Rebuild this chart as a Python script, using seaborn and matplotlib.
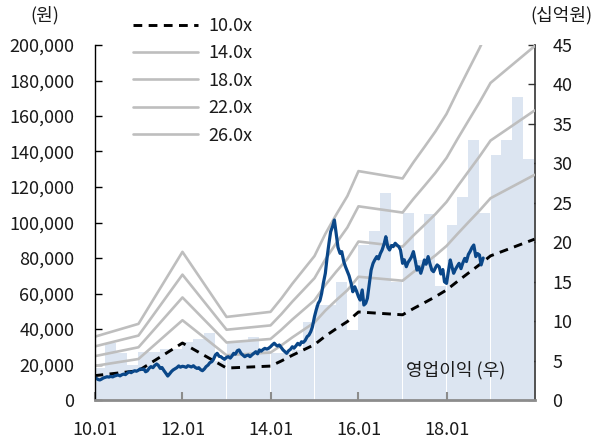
import numpy as np
import pandas as pd
import matplotlib
matplotlib.use("Agg")
import matplotlib.pyplot as plt
import seaborn as sns
from matplotlib.lines import Line2D
from matplotlib.ticker import FuncFormatter, MultipleLocator

sns.set_style("ticks")
plt.rcParams["font.family"] = ["Noto Sans CJK KR", "DejaVu Sans"]
plt.rcParams["axes.unicode_minus"] = False

# Share price (thousand won), sampled on the 1st and 15th of each month from Jan 2010
price_k = [
    # 2010
    12.8, 12.2, 11.5, 11.3, 11.8, 12.4, 12.8, 13.1, 12.9, 13.3, 13.0, 13.5,
    13.8, 14.1, 13.6, 14.2, 14.6, 14.3, 15.2, 15.9, 15.4, 16.0, 16.5, 16.2,
    # 2011
    16.8, 17.5, 17.2, 17.5, 15.9, 16.4, 18.0, 18.8, 18.2, 19.4, 20.3, 19.5,
    17.8, 18.3, 16.5, 15.2, 13.5, 14.6, 16.0, 16.9, 17.6, 18.2, 19.2, 18.5,
    # 2012
    19.0, 18.8, 18.4, 19.3, 19.0, 18.6, 19.3, 18.4, 17.8, 18.2, 17.0, 16.5,
    17.5, 18.8, 19.7, 21.0, 21.6, 23.0, 25.4, 26.3, 24.6, 24.4, 23.5, 22.9,
    # 2013
    24.0, 24.4, 23.6, 24.8, 26.3, 25.8, 27.8, 28.2, 26.3, 25.4, 24.4, 25.0,
    25.3, 24.4, 25.5, 26.3, 27.2, 26.0, 28.2, 27.5, 28.5, 29.1, 28.7, 29.1,
    # 2014
    30.0, 31.0, 32.0, 31.0, 30.4, 31.0, 29.5, 28.2, 27.2, 26.3, 27.8, 28.5,
    30.0, 29.2, 30.6, 31.9, 31.0, 32.8, 32.5, 33.5, 35.7, 36.5, 38.5, 41.3,
    # 2015
    47.0, 50.7, 54.5, 56.0, 60.0, 65.7, 71.4, 80.0, 88.3, 94.8, 98.0, 101.4,
    93.0, 86.0, 82.6, 83.6, 78.0, 75.1, 72.3, 70.0, 65.7, 61.0, 63.8, 61.5,
    # 2016
    58.2, 56.3, 62.0, 53.5, 54.5, 57.3, 66.0, 73.2, 77.0, 78.9, 80.8, 79.5,
    82.6, 84.5, 88.0, 92.0, 86.0, 84.5, 87.0, 86.4, 88.3, 87.3, 86.4, 84.5,
    # 2017
    77.0, 79.0, 75.1, 77.5, 78.9, 80.5, 83.6, 79.0, 73.2, 75.0, 71.4, 74.5,
    78.9, 76.5, 80.8, 77.0, 73.2, 72.3, 74.5, 76.1, 75.1, 71.0, 73.5, 66.6,
    # 2018
    65.7, 72.0, 78.9, 75.0, 71.4, 73.5, 75.5, 77.0, 74.0, 77.0, 79.8, 78.0,
    82.0, 83.6, 86.0, 87.3, 80.8, 82.5, 81.7, 76.1, 80.0,
]

# Forward EPS (won) at the dates where the PER band changes slope
eps_dates = [
    "2010-01-01", "2011-01-01", "2012-01-01", "2013-01-01", "2014-01-01",
    "2014-04-01", "2014-07-01", "2014-10-01", "2015-01-01", "2015-04-01",
    "2015-07-01", "2015-10-01", "2016-01-01", "2017-01-01", "2017-04-01",
    "2017-07-01", "2017-10-01", "2018-01-01", "2018-04-01", "2018-07-01",
    "2018-10-01", "2019-01-01", "2020-01-01",
]
eps = [
    1370, 1650, 3210, 1800, 1910,
    2200, 2520, 2820, 3120, 3600,
    4020, 4420, 4960, 4800, 5150,
    5480, 5820, 6200, 6680, 7150,
    7620, 8120, 9060,
]
multiples = [10.0, 14.0, 18.0, 22.0, 26.0]

# Quarterly operating profit (billion won), 1Q10 - 4Q19
op_profit = [
    4.0, 7.2, 6.0, 4.5, 6.1, 6.1, 6.5, 6.5, 7.4, 7.7,
    8.5, 5.0, 7.4, 7.4, 8.0, 6.3, 5.9, 5.9, 6.4, 9.9,
    12.0, 12.0, 14.9, 8.9, 19.6, 21.4, 26.3, 15.0, 23.7, 17.7,
    23.6, 14.4, 22.2, 25.7, 33.0, 23.7, 31.1, 32.9, 38.4, 30.6,
]

tick_years = ["2010-01-01", "2012-01-01", "2014-01-01", "2016-01-01", "2018-01-01"]
tick_labels = ["10.01", "12.01", "14.01", "16.01", "18.01"]

price_df = pd.DataFrame({
    "date": pd.date_range("2010-01-01", periods=len(price_k), freq="SMS"),
    "price": np.array(price_k) * 1000,
})
eps_idx = pd.to_datetime(eps_dates)
eps_arr = np.array(eps, dtype=float)
q_dates = pd.date_range("2010-01-01", periods=len(op_profit), freq="QS")

TEXT = "#1a1a1a"
BAR = "#DCE5F1"
GREY = "#BEBEBE"
BLUE = "#0A4789"

fig = plt.figure(figsize=(5.95, 4.42), dpi=100)
ax = fig.add_axes([94.5 / 595, 42 / 442, 440 / 595, 355 / 442])
ax2 = ax.twinx()

# Operating profit bars on the right-hand scale, behind everything else
ax2.bar(q_dates, op_profit, width=91.3, align="edge", color=BAR, linewidth=0)
ax2.set_ylim(0, 45)
ax.set_zorder(ax2.get_zorder() + 1)
ax.patch.set_visible(False)

# PER bands
handles = []
for m in multiples:
    if m == 10.0:
        style = dict(color="black", linewidth=2.1, linestyle=(0, (3.0, 2.2)))
    else:
        style = dict(color=GREY, linewidth=1.9, linestyle="-")
    sns.lineplot(x=eps_idx, y=eps_arr * m, ax=ax, **style)
    handles.append(Line2D([], [], **style))

# Share price
sns.lineplot(data=price_df, x="date", y="price", ax=ax, color=BLUE, linewidth=2.3)

ax.set_xlim(pd.Timestamp("2010-01-01"), pd.Timestamp("2020-01-01"))
ax.set_ylim(0, 200000)
ax.yaxis.set_major_locator(MultipleLocator(20000))
ax.yaxis.set_major_formatter(FuncFormatter(lambda v, p: f"{v:,.0f}"))
ax2.yaxis.set_major_locator(MultipleLocator(5))
ax.set_xticks(pd.to_datetime(tick_years))
ax.set_xticklabels(tick_labels)
ax.set_xlabel("")
ax.set_ylabel("")
ax2.set_ylabel("")

for a in (ax, ax2):
    a.spines["top"].set_visible(False)
ax.spines["right"].set_visible(False)
ax2.spines["left"].set_visible(False)
ax2.spines["bottom"].set_visible(False)
ax.spines["left"].set_color("black")
ax.spines["left"].set_linewidth(1.0)
ax2.spines["right"].set_color("#333333")
ax2.spines["right"].set_linewidth(1.2)
ax.spines["bottom"].set_color("#8C8C8C")
ax.spines["bottom"].set_linewidth(2.0)

ax.tick_params(axis="y", direction="in", length=5, width=1, color="black",
               labelsize=13, labelcolor=TEXT, pad=14.5)
ax2.tick_params(axis="y", direction="in", length=5, width=1, color="#333333",
                labelsize=13, labelcolor=TEXT, pad=13)
ax.tick_params(axis="x", direction="in", length=6, width=1.5, color="#8C8C8C",
               labelsize=13, labelcolor=TEXT, pad=15)

fig.text(45 / 595, 1 - 15 / 442, "(원)", ha="center", va="center", fontsize=13, color=TEXT)
fig.text(561 / 595, 1 - 15 / 442, "(십억원)", ha="center", va="center", fontsize=13, color=TEXT)
ax.text(0.82, 0.085, "영업이익 (우)", transform=ax.transAxes, ha="center", va="center",
        fontsize=13, color=TEXT)

fig.legend(handles, [f"{m:.1f}x" for m in multiples], loc="upper left",
           bbox_to_anchor=(133 / 595, 1 - 17 / 442), frameon=False, fontsize=13,
           handlelength=3.6, handletextpad=0.55, labelspacing=0.52,
           borderpad=0, borderaxespad=0, labelcolor=TEXT)

fig.savefig("out.png", dpi=100)
